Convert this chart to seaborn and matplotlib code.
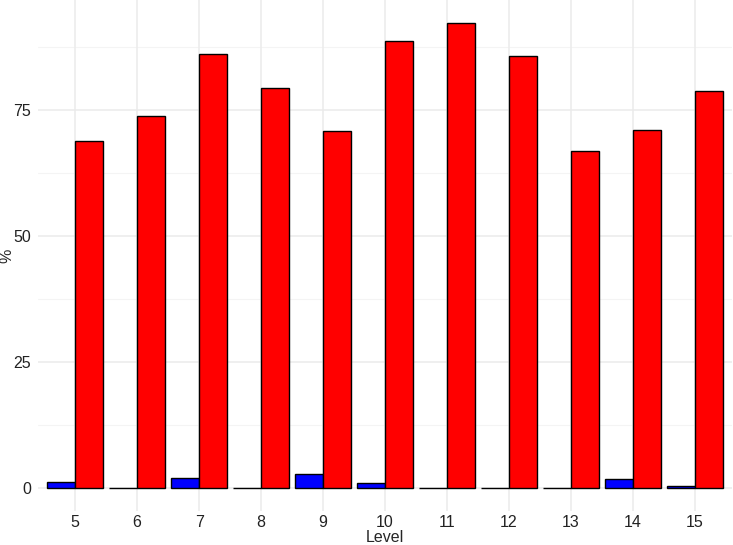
import pandas as pd
import seaborn as sns
import matplotlib.pyplot as plt

# data
levels = [5, 6, 7, 8, 9, 10, 11, 12, 13, 14, 15]
blue_pct = [1.2, 0.0, 1.9, 0.0, 2.8, 0.9, 0.0, 0.0, 0.0, 1.7, 0.4]
red_pct = [68.8, 73.8, 86.1, 79.4, 70.8, 88.7, 92.3, 85.7, 66.9, 71.0, 78.8]
groups = ["A", "B"]
yticks = [0, 25, 50, 75]

df = pd.DataFrame({
    "Level": [str(l) for l in levels] * 2,
    "pct": blue_pct + red_pct,
    "group": [groups[0]] * len(levels) + [groups[1]] * len(levels),
})

sns.set_style("white")
plt.rcParams["font.family"] = ["Liberation Sans", "DejaVu Sans"]
fig = plt.figure(figsize=(7.33, 5.45), dpi=100)
ax = fig.add_axes([38 / 733, 34 / 545, 694 / 733, 511 / 545])

sns.barplot(
    data=df, x="Level", y="pct", hue="group",
    palette={"A": "#0000FF", "B": "#FF0000"}, saturation=1,
    width=0.9, edgecolor="black", linewidth=1.0,
    legend=False, ax=ax, zorder=3,
)

# grid, ggplot-minimal style
for y in [12.5, 37.5, 62.5, 87.5]:
    ax.axhline(y, color="#F4F4F4", lw=0.8, zorder=0)
for y in yticks:
    ax.axhline(y, color="#EBEBEB", lw=1.1, zorder=0)
for i in range(len(levels)):
    ax.axvline(i, color="#EBEBEB", lw=1.1, zorder=0)

ax.set_xlim(-0.6, len(levels) - 0.4)
ax.set_ylim(-4.62, 96.9)
ax.set_yticks(yticks)
ax.tick_params(length=0, labelsize=11.5, labelcolor="#222222")
ax.tick_params(axis="x", pad=3)
ax.tick_params(axis="y", pad=5)
for s in ax.spines.values():
    s.set_visible(False)

ax.set_xlabel("Level", fontsize=11.5)
ax.set_ylabel("%", fontsize=11.5)
ax.xaxis.set_label_coords(0.5, -19 / 511, transform=ax.transAxes)
ax.xaxis.label.set_va("top")
ax.yaxis.set_label_coords(-31 / 694, 0.5, transform=ax.transAxes)
ax.yaxis.label.set_va("center")

fig.savefig("out.png", dpi=100)
